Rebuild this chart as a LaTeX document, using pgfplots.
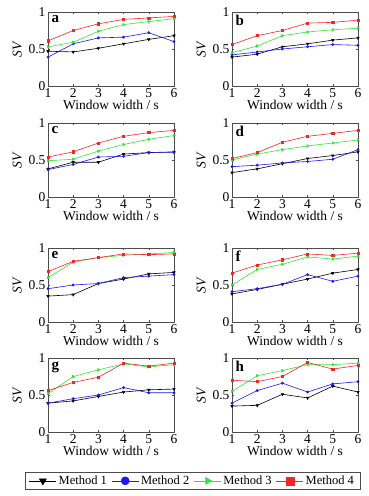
\documentclass[border=0pt]{standalone}
\usepackage{fontspec}
\setmainfont{Liberation Serif}
\usepackage{pgfplots}
\pgfplotsset{compat=1.18}
\definecolor{mgreen}{rgb}{0.2,0.9,0.2}
\definecolor{mred}{rgb}{0.95,0.15,0.15}
\definecolor{mblue}{rgb}{0.1,0.1,0.95}
\tikzset{letter/.style={anchor=north west, font=\bfseries\fontsize{15}{16}\selectfont, inner sep=1pt}}
\pgfplotsset{
  sv/.style={scale only axis, width=126pt, height=74pt,
    xmin=1, xmax=6, ymin=0, ymax=1,
    xtick={1,2,3,4,5,6}, ytick={0,0.5,1},
    tick align=inside, major tick length=2pt,
    axis line style={black!70}, tick style={black!70, line width=0.4pt},
    /pgf/number format/assume math mode=true,
    tick label style={font=\fontsize{13.5}{15}\selectfont},
    label style={font=\fontsize{13.5}{15}\selectfont},
    xlabel={Window width / s}, ylabel={\textit{SV}},
    xlabel style={yshift=4pt},
    ylabel style={yshift=0pt},
    xticklabel style={yshift=1pt},
    yticklabel style={xshift=1pt},
    anchor=south west},
  mA/.style={black, line width=0.6pt, mark=triangle*, mark size=1.4pt, mark options={rotate=180, solid}},
  mB/.style={mblue, line width=0.6pt, mark=*, mark size=1.1pt, mark options={solid}},
  mC/.style={mgreen, line width=0.6pt, mark=triangle*, mark size=1.4pt, mark options={rotate=-90, solid}},
  mD/.style={mred, line width=0.6pt, mark=square*, mark size=1.1pt, mark options={solid}},
  legimg/.style={legend image code/.code={
      \draw[##1] (0pt,0pt) -- (27pt,0pt);
      \draw[##1, mark size=4pt, line width=0.6pt] plot coordinates {(13.5pt,0pt)};}},
}
\begin{document}
\begin{tikzpicture}
\useasboundingbox (0pt,0pt) rectangle (369pt,496pt);
% ---- a
\begin{axis}[sv, at={(48pt,410pt)}]
\addplot[mA] coordinates {(1,0.47)(2,0.46)(3,0.51)(4,0.57)(5,0.63)(6,0.68)};
\addplot[mB] coordinates {(1,0.39)(2,0.57)(3,0.65)(4,0.66)(5,0.72)(6,0.60)};
\addplot[mC] coordinates {(1,0.53)(2,0.59)(3,0.74)(4,0.83)(5,0.87)(6,0.91)};
\addplot[mD] coordinates {(1,0.61)(2,0.75)(3,0.84)(4,0.90)(5,0.92)(6,0.94)};
\node[letter] at (rel axis cs:0.02,0.97) {a};
\end{axis}
% ---- b
\begin{axis}[sv, at={(232pt,410pt)}]
\addplot[mA] coordinates {(1,0.39)(2,0.43)(3,0.53)(4,0.57)(5,0.62)(6,0.65)};
\addplot[mB] coordinates {(1,0.42)(2,0.46)(3,0.50)(4,0.53)(5,0.56)(6,0.55)};
\addplot[mC] coordinates {(1,0.45)(2,0.54)(3,0.68)(4,0.73)(5,0.76)(6,0.78)};
\addplot[mD] coordinates {(1,0.56)(2,0.68)(3,0.75)(4,0.85)(5,0.86)(6,0.89)};
\node[letter] at (rel axis cs:0.02,0.97) {b};
\end{axis}
% ---- c
\begin{axis}[sv, at={(48pt,299pt)}]
\addplot[mA] coordinates {(1,0.38)(2,0.47)(3,0.47)(4,0.58)(5,0.60)(6,0.61)};
\addplot[mB] coordinates {(1,0.37)(2,0.44)(3,0.54)(4,0.55)(5,0.60)(6,0.60)};
\addplot[mC] coordinates {(1,0.49)(2,0.51)(3,0.62)(4,0.71)(5,0.78)(6,0.83)};
\addplot[mD] coordinates {(1,0.54)(2,0.61)(3,0.73)(4,0.82)(5,0.87)(6,0.90)};
\node[letter] at (rel axis cs:0.02,0.97) {c};
\end{axis}
% ---- d
\begin{axis}[sv, at={(232pt,299pt)}]
\addplot[mA] coordinates {(1,0.33)(2,0.38)(3,0.45)(4,0.52)(5,0.56)(6,0.61)};
\addplot[mB] coordinates {(1,0.41)(2,0.43)(3,0.46)(4,0.48)(5,0.51)(6,0.64)};
\addplot[mC] coordinates {(1,0.50)(2,0.58)(3,0.64)(4,0.69)(5,0.73)(6,0.77)};
\addplot[mD] coordinates {(1,0.52)(2,0.60)(3,0.74)(4,0.82)(5,0.86)(6,0.90)};
\node[letter] at (rel axis cs:0.02,0.97) {d};
\end{axis}
% ---- e
\begin{axis}[sv, at={(48pt,174pt)}]
\addplot[mA] coordinates {(1,0.35)(2,0.37)(3,0.52)(4,0.58)(5,0.65)(6,0.67)};
\addplot[mB] coordinates {(1,0.45)(2,0.50)(3,0.52)(4,0.60)(5,0.62)(6,0.64)};
\addplot[mC] coordinates {(1,0.60)(2,0.81)(3,0.87)(4,0.90)(5,0.92)(6,0.94)};
\addplot[mD] coordinates {(1,0.68)(2,0.82)(3,0.87)(4,0.92)(5,0.91)(6,0.92)};
\node[letter] at (rel axis cs:0.02,0.97) {e};
\end{axis}
% ---- f
\begin{axis}[sv, at={(232pt,174pt)}]
\addplot[mA] coordinates {(1,0.38)(2,0.44)(3,0.51)(4,0.58)(5,0.66)(6,0.71)};
\addplot[mB] coordinates {(1,0.41)(2,0.45)(3,0.51)(4,0.64)(5,0.55)(6,0.62)};
\addplot[mC] coordinates {(1,0.50)(2,0.71)(3,0.78)(4,0.88)(5,0.85)(6,0.89)};
\addplot[mD] coordinates {(1,0.66)(2,0.77)(3,0.84)(4,0.92)(5,0.90)(6,0.93)};
\node[letter] at (rel axis cs:0.02,0.97) {f};
\end{axis}
% ---- g
\begin{axis}[sv, at={(48pt,64pt)}, legimg, legend columns=4,
  legend style={at={(1.147,-0.66)}, anchor=center, draw=black!70, line width=0.5pt,
    font=\fontsize{12.5}{14}\selectfont, inner xsep=4pt, inner ysep=1.5pt,
    /tikz/every even column/.append style={column sep=2.5pt}},
  legend cell align=left]
\addplot[mA] coordinates {(1,0.39)(2,0.42)(3,0.48)(4,0.54)(5,0.57)(6,0.58)};
\addplot[mB] coordinates {(1,0.39)(2,0.45)(3,0.50)(4,0.60)(5,0.53)(6,0.53)};
\addplot[mC] coordinates {(1,0.52)(2,0.75)(3,0.84)(4,0.92)(5,0.88)(6,0.91)};
\addplot[mD] coordinates {(1,0.56)(2,0.67)(3,0.74)(4,0.93)(5,0.89)(6,0.93)};
\legend{Method 1, Method 2, Method 3, Method 4}
\node[letter] at (rel axis cs:0.02,0.97) {g};
\end{axis}
% ---- h
\begin{axis}[sv, at={(232pt,64pt)}]
\addplot[mA] coordinates {(1,0.35)(2,0.36)(3,0.51)(4,0.46)(5,0.62)(6,0.54)};
\addplot[mB] coordinates {(1,0.39)(2,0.56)(3,0.66)(4,0.54)(5,0.65)(6,0.68)};
\addplot[mC] coordinates {(1,0.55)(2,0.76)(3,0.83)(4,0.91)(5,0.91)(6,0.93)};
\addplot[mD] coordinates {(1,0.70)(2,0.68)(3,0.75)(4,0.94)(5,0.85)(6,0.90)};
\node[letter] at (rel axis cs:0.02,0.97) {h};
\end{axis}
\end{tikzpicture}
\end{document}
